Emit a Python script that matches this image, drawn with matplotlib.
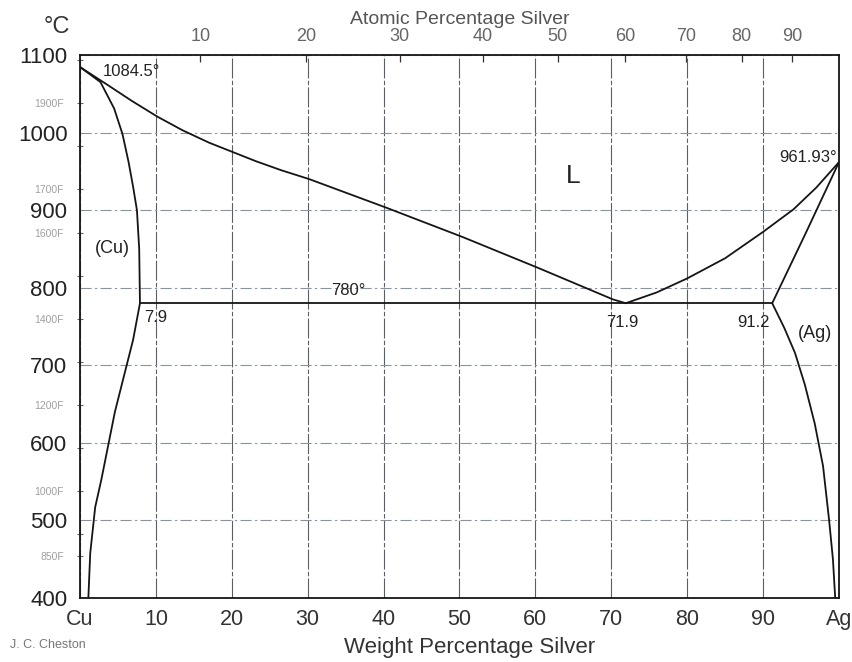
import numpy as np
import matplotlib
matplotlib.use('Agg')
import matplotlib.pyplot as plt

plt.rcParams['font.family'] = ['Liberation Sans', 'DejaVu Sans']

# ---------------- data (wt % Ag, temperature in deg C) ----------------
liq_cu_wt = [0, 3.7, 6.8, 10.2, 13.5, 17.0, 20.1, 23.2, 26.5, 30.2, 40.4, 50.4, 60.4, 70.2, 71.9]
liq_cu_T = [1084.5, 1061, 1041, 1020.5, 1003, 987, 975, 963, 951.5, 940, 903, 865.4, 825.4, 785, 780]
liq_ag_wt = [71.9, 76, 80, 85, 90, 94, 97, 100]
liq_ag_T = [780, 794, 812, 838, 872, 901, 929, 961.93]
sol_cu_wt = [0, 2.7, 4.5, 5.6, 6.4, 7.0, 7.5, 7.8, 7.9]
sol_cu_T = [1084.5, 1065, 1031, 998, 962, 930, 900, 850, 780]
solv_cu_wt = [7.9, 7.0, 4.6, 2.8, 2.0, 1.35, 1.1]
solv_cu_T = [780, 733, 640, 552, 517, 458, 400]
sol_ag_wt = [91.2, 95.6, 100]
sol_ag_T = [780, 870, 961.93]
solv_ag_wt = [91.2, 92.8, 94.2, 95.5, 96.8, 97.9, 98.7, 99.2, 99.5]
solv_ag_T = [780, 748, 716, 675, 625, 570, 500, 450, 400]
eut_wt = [7.9, 71.9, 91.2]
eut_T = [780, 780, 780]

wt_ticks = [0, 10, 20, 30, 40, 50, 60, 70, 80, 90, 100]
wt_labels = ['Cu', '10', '20', '30', '40', '50', '60', '70', '80', '90', 'Ag']
at_ticks = [10, 20, 30, 40, 50, 60, 70, 80, 90]
c_ticks = [400, 500, 600, 700, 800, 900, 1000, 1100]
f_ticks = [850, 900, 1000, 1100, 1200, 1300, 1400, 1500, 1600, 1700, 1800, 1900, 2000]
f_labeled = [1900, 1700, 1600, 1400, 1200, 1000, 850]

annotations = [("1084.5°", 6.8, 1079, 'center', 12),
               ("L", 65.0, 944, 'center', 19),
               ("(Cu)", 4.3, 851, 'center', 13),
               ("780°", 35.4, 797, 'center', 12),
               ("7.9", 10.0, 762, 'center', 12),
               ("71.9", 71.4, 755, 'center', 12),
               ("91.2", 88.7, 755, 'center', 12),
               ("(Ag)", 96.8, 741, 'center', 13),
               ("961.93°", 99.7, 968, 'right', 12)]

M_AG, M_CU = 107.87, 63.546


def wt_to_at(w):
    w = np.asarray(w, dtype=float)
    a = w / M_AG
    c = (100 - w) / M_CU
    return 100 * a / np.maximum(a + c, 1e-12)


def at_to_wt(x):
    x = np.asarray(x, dtype=float)
    a = x * M_AG
    c = (100 - x) * M_CU
    return 100 * a / np.maximum(a + c, 1e-12)


def f_to_c(f):
    return (np.asarray(f, dtype=float) - 32) * 5 / 9


# ---------------- figure ----------------
fig = plt.figure(figsize=(8.53, 6.62), dpi=100)
ax = fig.add_axes([80 / 853, 64 / 662, 759 / 853, 543 / 662])
ax.set_xlim(0, 100)
ax.set_ylim(400, 1100)

line_kw = dict(color='#151515', lw=1.3, solid_capstyle='round', solid_joinstyle='round', zorder=5)
for xs, ys in [(liq_cu_wt, liq_cu_T), (liq_ag_wt, liq_ag_T), (sol_cu_wt, sol_cu_T),
               (solv_cu_wt, solv_cu_T), (sol_ag_wt, sol_ag_T), (solv_ag_wt, solv_ag_T),
               (eut_wt, eut_T)]:
    ax.plot(xs, ys, **line_kw)

# grid
ax.set_xticks(wt_ticks)
ax.set_xticklabels(wt_labels)
ax.set_yticks(c_ticks)
ax.set_yticklabels([str(v) for v in c_ticks])
ax.xaxis.grid(True, color='#5a5f66', lw=0.8, linestyle=(0, (18, 2, 4, 2)), zorder=1)
ax.yaxis.grid(True, color='#8a929c', lw=0.8, linestyle=(0, (10, 3, 2, 3)), zorder=1)

# minor ticks in Fahrenheit on the left
ax.set_yticks(f_to_c(f_ticks), minor=True)
ax.set_yticklabels([f"{f}F" if f in f_labeled else "" for f in f_ticks], minor=True)

ax.tick_params(axis='x', which='major', length=0, pad=8, labelsize=15.5, labelcolor='#333333')
ax.tick_params(axis='y', which='major', length=0, pad=9, labelsize=16, labelcolor='#222222')
ax.tick_params(axis='y', which='minor', direction='inout', length=5, width=0.8,
               color='#666666', pad=9, labelsize=7.5, labelcolor='#a0a0a0')

for s in ax.spines.values():
    s.set_color('#151515')
    s.set_linewidth(1.3)

# top atomic-percentage axis
sec = ax.secondary_xaxis('top', functions=(wt_to_at, at_to_wt))
sec.set_xticks(at_ticks)
sec.set_xticklabels([str(v) for v in at_ticks])
sec.tick_params(direction='in', length=5, width=0.9, color='#333333', pad=7,
                labelsize=13, labelcolor='#666666')
sec.spines['top'].set_visible(False)
sec.set_xlabel('Atomic Percentage Silver', fontsize=14, color='#555555', labelpad=3)

# annotations
for txt, x, y, ha, fs in annotations:
    ax.text(x, y, txt, ha=ha, va='center', fontsize=fs, color='#222222', zorder=6)

fig.text(57 / 853, 1 - 27 / 662, '°C', ha='center', va='center', fontsize=17, color='#333333')
fig.text(470 / 853, 1 - 648 / 662, 'Weight Percentage Silver', ha='center', va='center',
         fontsize=16, color='#333333')
fig.text(10 / 853, 1 - 645 / 662, 'J. C. Cheston', ha='left', va='center',
         fontsize=9, color='#777777')

fig.savefig('out.png', dpi=100, facecolor='white')
